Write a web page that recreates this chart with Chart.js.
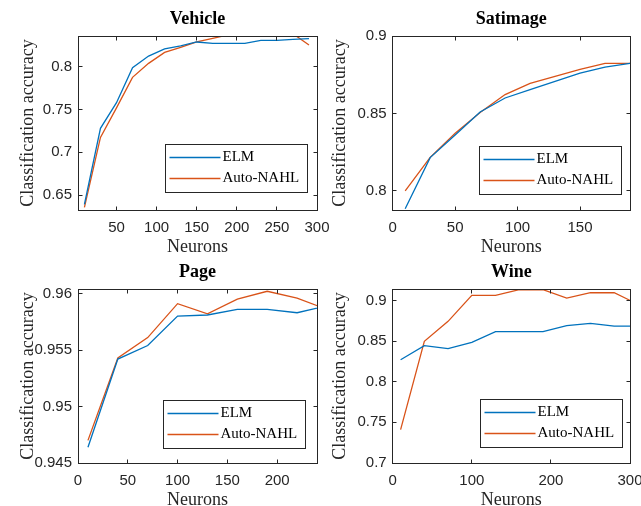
<!DOCTYPE html>
<html>
<head>
<meta charset="utf-8">
<script src="https://cdn.jsdelivr.net/npm/chart.js@4.4.0/dist/chart.umd.min.js"></script>
<style>
  html, body { margin: 0; padding: 0; background: #fff; overflow: hidden; }
  #wrap { position: relative; width: 641px; height: 506px; overflow: hidden; }
  canvas { position: absolute; }
</style>
</head>
<body>
<div id="wrap">
  <canvas id="vehicle" width="340" height="253" style="left:0;top:0"></canvas>
  <canvas id="satimage" width="340" height="253" style="left:320px;top:0"></canvas>
  <canvas id="page" width="340" height="253" style="left:0;top:253px"></canvas>
  <canvas id="wine" width="340" height="253" style="left:320px;top:253px"></canvas>
</div>
<script>
// values
const seriesNames = ['ELM', 'Auto-NAHL'];

const vehicleNeurons = [10, 30, 50, 70, 90, 110, 130, 150, 170, 190, 210, 230, 250, 270, 290];
const vehicleElm  = [0.639, 0.728, 0.758, 0.799, 0.8125, 0.821, 0.8245, 0.829, 0.8273, 0.8273, 0.8273, 0.831, 0.831, 0.832, 0.833];
const vehicleNahl = [0.6355, 0.7174, 0.752, 0.7876, 0.804, 0.8168, 0.8227, 0.829, 0.8332, 0.8375, 0.839, 0.840, 0.840, 0.8387, 0.8254];
const vehicleXTicks = [50, 100, 150, 200, 250, 300];
const vehicleYTicks = [0.65, 0.7, 0.75, 0.8];

const satimageNeurons = [10, 30, 50, 70, 90, 110, 130, 150, 170, 190];
const satimageElm  = [0.7885, 0.8215, 0.8361, 0.851, 0.860, 0.8654, 0.8707, 0.876, 0.8799, 0.8823];
const satimageNahl = [0.8, 0.8217, 0.8372, 0.8506, 0.8622, 0.8694, 0.8739, 0.8784, 0.8823, 0.8823];
const satimageXTicks = [0, 50, 100, 150];
const satimageYTicks = [0.8, 0.85, 0.9];

const pageNeurons = [10, 40, 70, 100, 130, 160, 190, 220, 250];
const pageElm  = [0.9464, 0.9542, 0.9554, 0.958, 0.9581, 0.9586, 0.9586, 0.9583, 0.9589];
const pageNahl = [0.947, 0.9543, 0.9561, 0.9591, 0.9582, 0.9595, 0.9602, 0.9596, 0.9586];
const pageXTicks = [0, 50, 100, 150, 200];
const pageYTicks = [0.945, 0.95, 0.955, 0.96];

const wineNeurons = [10, 40, 70, 100, 130, 160, 190, 220, 250, 280, 310];
const wineElm  = [0.827, 0.8443, 0.8406, 0.8484, 0.8615, 0.8615, 0.8615, 0.8689, 0.8717, 0.8684, 0.8684];
const wineNahl = [0.741, 0.8496, 0.8742, 0.9061, 0.9061, 0.9131, 0.9131, 0.9029, 0.9094, 0.9094, 0.8953];
const wineXTicks = [0, 100, 200, 300];
const wineYTicks = [0.7, 0.75, 0.8, 0.85, 0.9];

const COLORS = { elm: '#0072BD', nahl: '#D95319', axis: '#262626' };
const CANVAS_W = 340;

// draws the matlab style box, inward ticks and the framed legend
const matlabAxes = {
  id: 'matlabAxes',
  afterDraw(chart, args, opts) {
    const ctx = chart.ctx, ca = chart.chartArea;
    const xs = chart.scales.x, ys = chart.scales.y;
    const l = Math.floor(ca.left) + 0.5, r = Math.floor(ca.right) + 0.5;
    const t = Math.floor(ca.top) + 0.5, b = Math.floor(ca.bottom) + 0.5;
    ctx.save();
    ctx.strokeStyle = COLORS.axis;
    ctx.lineWidth = 1;
    ctx.strokeRect(l, t, r - l, b - t);
    ctx.beginPath();
    xs.ticks.forEach(tk => {
      const px = Math.floor(xs.getPixelForValue(tk.value)) + 0.5;
      ctx.moveTo(px, b); ctx.lineTo(px, b - 4);
      ctx.moveTo(px, t); ctx.lineTo(px, t + 4);
    });
    ys.ticks.forEach(tk => {
      const py = Math.floor(ys.getPixelForValue(tk.value)) + 0.5;
      ctx.moveTo(l, py); ctx.lineTo(l + 4, py);
      ctx.moveTo(r, py); ctx.lineTo(r - 4, py);
    });
    ctx.stroke();

    // legend box
    const lg = opts.legend;
    const w = 142, h = 48;
    const bx = Math.floor(ca.right - lg.right - w) + 0.5;
    const by = Math.floor(ca.bottom - lg.bottom - h) + 0.5;
    ctx.fillStyle = '#fff';
    ctx.fillRect(bx, by, w, h);
    ctx.strokeStyle = COLORS.axis;
    ctx.strokeRect(bx, by, w, h);
    ctx.font = '15px "Liberation Serif"';
    ctx.textBaseline = 'middle';
    ctx.textAlign = 'left';
    chart.data.datasets.forEach((ds, i) => {
      const y = Math.round(by + 12 + i * 21) + 0.5;
      ctx.strokeStyle = ds.borderColor;
      ctx.lineWidth = ds.borderWidth;
      ctx.beginPath();
      ctx.moveTo(bx + 4, y);
      ctx.lineTo(bx + 55, y);
      ctx.stroke();
      ctx.fillStyle = '#000';
      ctx.fillText(ds.label, bx + 57, y);
    });
    ctx.restore();
  }
};

function makeChart(p) {
  const tickFont = { family: '"Liberation Sans", Arial, sans-serif', size: 15 };
  const labelFont = { family: '"Liberation Serif", serif', size: 18 };
  return new Chart(document.getElementById(p.id), {
    type: 'line',
    data: {
      datasets: [
        { label: seriesNames[0], data: p.x.map((n, i) => ({ x: n, y: p.elm[i] })),
          borderColor: COLORS.elm, borderWidth: 1.3, pointRadius: 0, tension: 0, clip: 0 },
        { label: seriesNames[1], data: p.x.map((n, i) => ({ x: n, y: p.nahl[i] })),
          borderColor: COLORS.nahl, borderWidth: 1.3, pointRadius: 0, tension: 0, clip: 0 }
      ]
    },
    options: {
      responsive: false,
      animation: false,
      devicePixelRatio: 1,
      layout: { padding: { left: 0, right: CANVAS_W - p.right, top: 0, bottom: 0 } },
      plugins: {
        legend: { display: false },
        tooltip: { enabled: false },
        title: {
          display: true, text: p.title, fullSize: false, color: '#000',
          font: { family: '"Liberation Serif", serif', size: 18, weight: 'bold' },
          padding: { top: 9, bottom: 5.4 }
        },
        matlabAxes: { legend: p.legend }
      },
      scales: {
        x: {
          type: 'linear', min: p.xMin, max: p.xMax,
          grid: { display: false, drawTicks: false }, border: { display: false },
          afterBuildTicks: s => { s.ticks = p.xTicks.map(v => ({ value: v })); },
          afterFit: s => { s.height = 43; },
          ticks: { padding: 9, font: tickFont, color: COLORS.axis, maxRotation: 0, autoSkip: false,
                   callback: v => String(v) },
          title: { display: true, text: 'Neurons', font: labelFont, color: COLORS.axis,
                   padding: { top: 0, bottom: -5.5 } }
        },
        y: {
          type: 'linear', min: p.yMin, max: p.yMax,
          grid: { display: false, drawTicks: false }, border: { display: false },
          afterBuildTicks: s => { s.ticks = p.yTicks.map(v => ({ value: v })); },
          afterFit: s => { s.width = p.left; },
          ticks: { padding: 6, font: tickFont, color: COLORS.axis, autoSkip: false,
                   callback: v => String(v) },
          title: { display: true, text: 'Classification accuracy', font: labelFont, color: COLORS.axis,
                   padding: { top: p.yTitlePad, bottom: 0 } }
        }
      }
    },
    plugins: [matlabAxes]
  });
}

makeChart({ id: 'vehicle', title: 'Vehicle', x: vehicleNeurons, elm: vehicleElm, nahl: vehicleNahl,
  xMin: 2, xMax: 300, yMin: 0.6325, yMax: 0.836, xTicks: vehicleXTicks, yTicks: vehicleYTicks,
  left: 78, right: 317, yTitlePad: 17, legend: { right: 10, bottom: 18 } });
makeChart({ id: 'satimage', title: 'Satimage', x: satimageNeurons, elm: satimageElm, nahl: satimageNahl,
  xMin: 0, xMax: 190, yMin: 0.7877, yMax: 0.9, xTicks: satimageXTicks, yTicks: satimageYTicks,
  left: 72.7, right: 310, yTitlePad: 9.6, legend: { right: 8.3, bottom: 16 } });
makeChart({ id: 'page', title: 'Page', x: pageNeurons, elm: pageElm, nahl: pageNahl,
  xMin: 0, xMax: 240, yMin: 0.945, yMax: 0.9604, xTicks: pageXTicks, yTicks: pageYTicks,
  left: 78, right: 317, yTitlePad: 17, legend: { right: 11.3, bottom: 14.3 } });
makeChart({ id: 'wine', title: 'Wine', x: wineNeurons, elm: wineElm, nahl: wineNahl,
  xMin: 0, xMax: 300, yMin: 0.7, yMax: 0.914, xTicks: wineXTicks, yTicks: wineYTicks,
  left: 72.7, right: 310, yTitlePad: 9.6, legend: { right: 7.3, bottom: 16 } });
</script>
</body>
</html>
